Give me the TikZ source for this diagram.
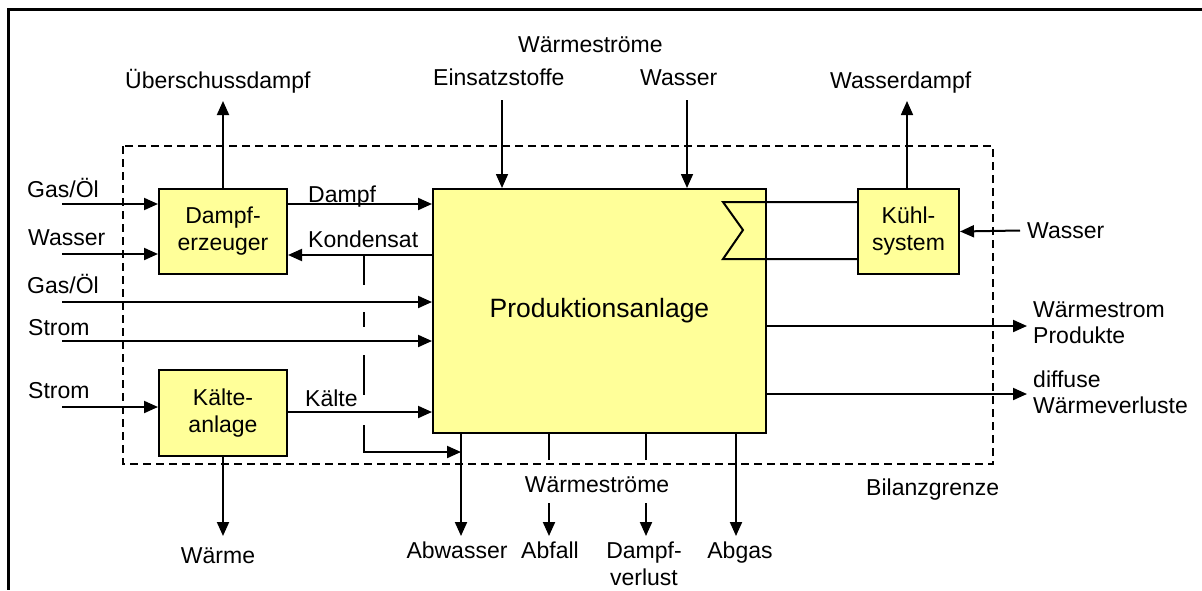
\documentclass[tikz,border=0pt]{standalone}
\usepackage{fontspec}
\setmainfont{Liberation Sans}
\usetikzlibrary{arrows.meta}
\definecolor{boxfill}{HTML}{FFFF99}
\begin{document}
\begin{tikzpicture}[x=1pt,y=-1pt,
  lbl/.style={inner sep=0pt, font=\fontsize{23}{27}\selectfont},
  box/.style={draw, line width=2pt, fill=boxfill, inner sep=0pt, align=center,
    font=\fontsize{23}{27}\selectfont, anchor=north west},
  flow/.style={line width=2pt, -{Triangle[length=14pt,width=12pt]}},
  thinflow/.style={line width=1.6pt, -{Triangle[length=14pt,width=12pt]}},
  plain/.style={line width=2pt},
]
\useasboundingbox (0,0) rectangle (1202,590);

% frame
\draw[line width=3pt] (1202,9) -- (8,9) -- (8,590);

% balance boundary
\draw[line width=1.5pt, dash pattern=on 8pt off 5pt] (123,146) rectangle (993,464);
\node[lbl, anchor=base west] (lBil) at (866,495) {Bilanzgrenze};

% units
\node[box, minimum width=128pt, minimum height=85pt] (dz) at (158,188) {Dampf-\\erzeuger};
\node[box, minimum width=128pt, minimum height=86pt] (ka) at (158,369) {Kälte-\\anlage};
\node[box, minimum width=333pt, minimum height=244pt,
      font=\fontsize{26.5}{30}\selectfont] (pa) at (432,188) {Produktionsanlage};
\node[box, minimum width=101pt, minimum height=85pt] (ks) at (857,188) {Kühl-\\system};

% heat exchanger between plant and cooling system
\coordinate (hxA) at (723,202);
\coordinate (hxM) at (743,230);
\coordinate (hxB) at (723,259);
\draw[plain] (hxA -| ks.west) -- (hxA) -- (hxM) -- (hxB) -- (hxB -| ks.west);

% row levels
\coordinate (yGas1) at (0,204);
\coordinate (yWas) at (0,254);
\coordinate (yGas2) at (0,302);
\coordinate (yStr1) at (0,341);
\coordinate (yStr2) at (0,407);
\coordinate (yDampf) at (0,204);
\coordinate (yKond) at (0,255);
\coordinate (yKaelte) at (0,412);
\coordinate (xIn) at (62,0);

% inputs from the left
\node[lbl, anchor=base west] (lGas1) at (27,197) {Gas/Öl};
\node[lbl, anchor=base west] (lWas) at (28,245) {Wasser};
\node[lbl, anchor=base west] (lGas2) at (27,293) {Gas/Öl};
\node[lbl, anchor=base west] (lStr1) at (28,335) {Strom};
\node[lbl, anchor=base west] (lStr2) at (28,398) {Strom};
\draw[flow] (xIn |- yGas1) -- (dz.west |- yGas1);
\draw[flow] (xIn |- yWas) -- (dz.west |- yWas);
\draw[flow] (xIn |- yGas2) -- (pa.west |- yGas2);
\draw[flow] (xIn |- yStr1) -- (pa.west |- yStr1);
\draw[flow] (xIn |- yStr2) -- (ka.west |- yStr2);

% steam, condensate, cold
\node[lbl, anchor=base west] (lDampf) at (308,202) {Dampf};
\node[lbl, anchor=base west] (lKond) at (308,247) {Kondensat};
\node[lbl, anchor=base west] (lKaelte) at (305,406) {Kälte};
\draw[flow] (dz.east |- yDampf) -- (pa.west |- yDampf);
\draw[flow] (pa.west |- yKond) -- (dz.east |- yKond);
\draw[flow] (ka.east |- yKaelte) -- (pa.west |- yKaelte);

% condensate drain
\coordinate (kTop) at (364,255);
\coordinate (kMid) at (364,425);
\coordinate (kBot) at (364,452);
\coordinate (xAbw) at (461,0);
\draw[plain, dash pattern=on 30pt off 27pt on 15pt off 28pt on 40pt off 30pt] (kTop) -- (kMid);
\draw[flow] (kMid) -- (kBot) -- (kBot -| xAbw);

% top inputs and outputs
\coordinate (yTip) at (0,101);
\coordinate (eIn) at (502,100);
\coordinate (wIn) at (687,100);
\coordinate (wdOut) at (907,101);
\node[lbl, anchor=base west] (lUeb) at (125,88) {Überschussdampf};
\node[lbl, anchor=base west] (lWstTop) at (518,52) {Wärmeströme};
\node[lbl, anchor=base west] (lEin) at (433,85) {Einsatzstoffe};
\node[lbl, anchor=base west] (lWasTop) at (640,85) {Wasser};
\node[lbl, anchor=base west] (lWd) at (830,88) {Wasserdampf};
\draw[flow] (dz.north) -- (dz.north |- yTip);
\draw[thinflow] (eIn) -- (eIn |- pa.north);
\draw[thinflow] (wIn) -- (wIn |- pa.north);
\draw[thinflow] (wdOut |- ks.north) -- (wdOut);

% cooling water
\coordinate (kwIn) at (1020,230.5);
\node[lbl, anchor=base west] (lKw) at (1027,238) {Wasser};
\draw[flow] (kwIn) -- (ks.east);

% outputs to the right
\coordinate (xOut) at (1027,0);
\coordinate (yWP) at (0,326);
\coordinate (yDif) at (0,394);
\draw[flow] (pa.east |- yWP) -- (xOut |- yWP);
\draw[flow] (pa.east |- yDif) -- (xOut |- yDif);
\node[lbl, anchor=base west] (lWs) at (1033,317) {Wärmestrom};
\node[lbl, anchor=base west] (lProd) at (1033,343) {Produkte};
\node[lbl, anchor=base west] (lDif) at (1033,387) {diffuse};
\node[lbl, anchor=base west] (lWv) at (1033,413) {Wärmeverluste};

% outputs at the bottom
\coordinate (yBot) at (0,536);
\coordinate (yCut) at (0,460);
\coordinate (yRes) at (0,503);
\coordinate (xAbf) at (549,0);
\coordinate (xDv) at (646,0);
\coordinate (xAbg) at (736,0);
\draw[flow] (ka.south) -- (ka.south |- yBot);
\draw[flow] (pa.south -| xAbw) -- (xAbw |- yBot);
\draw[plain] (pa.south -| xAbf) -- (xAbf |- yCut);
\draw[flow] (xAbf |- yRes) -- (xAbf |- yBot);
\draw[plain] (pa.south -| xDv) -- (xDv |- yCut);
\draw[flow] (xDv |- yRes) -- (xDv |- yBot);
\draw[flow] (pa.south -| xAbg) -- (xAbg |- yBot);
\node[lbl, anchor=base] (lWstBot) at (597,492) {Wärmeströme};
\node[lbl, anchor=base] (lWaerme) at (218,563) {Wärme};
\node[lbl, anchor=base] (lAbw) at (457,558) {Abwasser};
\node[lbl, anchor=base] (lAbf) at (550,558) {Abfall};
\node[lbl, anchor=base] (lDv1) at (644,558) {Dampf-};
\node[lbl, anchor=base] (lDv2) at (644,585) {verlust};
\node[lbl, anchor=base] (lAbg) at (740,558) {Abgas};
\end{tikzpicture}
\end{document}
